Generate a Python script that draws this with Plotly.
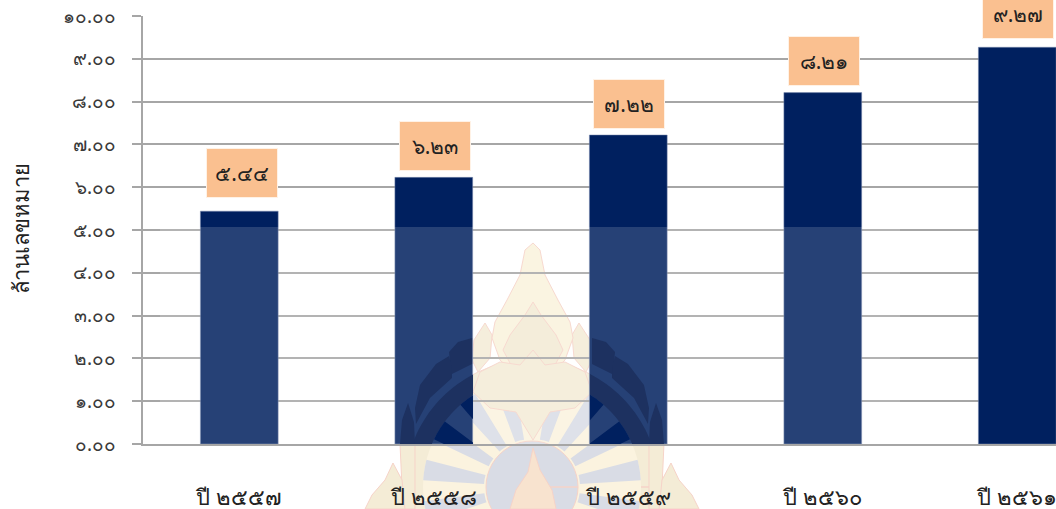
import math
import plotly.graph_objects as go

categories = ["ปี ๒๕๕๗", "ปี ๒๕๕๘", "ปี ๒๕๕๙", "ปี ๒๕๖๐", "ปี ๒๕๖๑"]
values = [5.44, 6.23, 7.22, 8.21, 9.27]
tick_values = [0, 1, 2, 3, 4, 5, 6, 7, 8, 9, 10]
axis_title = "ล้านเลขหมาย"
label_gaps = [14, 7, 7, 8, 9]
label_xshifts = [3, 1, 1, 1, 1]

THAI = str.maketrans("0123456789", "๐๑๒๓๔๕๖๗๘๙")
def thai(v):
    return f"{v:.2f}".translate(THAI)

FONT = "Noto Sans, DejaVu Sans, sans-serif"
L, T, B, W, H = 143, 16, 444, 1056, 509
CX, CY = 532, 487
COLS = [(395, 473), (590, 668)]

def P(x, y):
    return (x - L) / (W - L), (B - y) / (B - T)

def path(pts):
    return "M" + " L".join("%.4f %.4f" % P(*p) for p in pts) + " Z"

def clip(pts, inside, cross):
    out = []
    for i, a in enumerate(pts):
        b = pts[(i + 1) % len(pts)]
        if inside(a):
            out.append(a)
        if inside(a) != inside(b):
            out.append(cross(a, b))
    return out

def clip_box(pts, x0, x1, y1):
    def cx(v):
        return lambda a, b: (v, a[1] + (b[1] - a[1]) * (v - a[0]) / (b[0] - a[0]))
    def cy(v):
        return lambda a, b: (a[0] + (b[0] - a[0]) * (v - a[1]) / (b[1] - a[1]), v)
    for ins, cr in [(lambda p: p[0] >= x0, cx(x0)), (lambda p: p[0] <= x1, cx(x1)), (lambda p: p[1] <= y1, cy(y1))]:
        if pts:
            pts = clip(pts, ins, cr)
    return pts

def sector(r0, r1, a0, a1, n=24):
    steps = [a0 + (a1 - a0) * i / n for i in range(n + 1)]
    outer = [(CX + r1 * math.cos(math.radians(a)), CY - r1 * math.sin(math.radians(a))) for a in steps]
    inner = [(CX + r0 * math.cos(math.radians(a)), CY - r0 * math.sin(math.radians(a))) for a in reversed(steps)]
    return outer + inner

def mirror(pts):
    return [(2 * CX - x, y) for x, y in pts]

def shape(pts, fill, line=None, layer="below", lw=1):
    return dict(type="path", xref="paper", yref="paper", path=path(pts), fillcolor=fill, layer=layer,
                line=dict(color=line or "rgba(0,0,0,0)", width=lw if line else 0))

CREAM = "#fbf3df"
CREAM2 = "#f4ecd6"
PINK = "#f6d3c8"
GREY = "#d9dce5"

flame = [(533, 243), (540, 250), (545, 275), (558, 300), (570, 322), (573, 338), (565, 360), (550, 375), (533, 380),
         (516, 375), (500, 360), (492, 338), (495, 322), (507, 300), (520, 275), (525, 250)]
lotus = [(533, 350), (545, 365), (565, 362), (585, 372), (592, 392), (575, 408), (550, 412), (533, 440), (516, 412),
         (490, 408), (473, 392), (480, 372), (500, 362), (520, 365)]
inner_flame = [(533, 302), (541, 315), (556, 335), (563, 350), (555, 365), (533, 382), (511, 365), (503, 350), (510, 335), (525, 315)]
side_flame = [(485, 323), (492, 335), (490, 358), (478, 372), (472, 360), (474, 340)]
leaf_up = [(472, 338), (458, 342), (449, 352), (450, 362), (452, 374), (472, 364)]
leaf_mid = [(449, 356), (436, 364), (420, 385), (415, 408), (416, 424), (430, 398), (452, 378), (452, 368)]
leaf_low = [(408, 403), (402, 420), (400, 444), (403, 509), (415, 509), (415, 444), (414, 422)]
corner = [(393, 463), (402, 480), (405, 509), (365, 509), (372, 495), (385, 480)]
center_flame = [(533, 448), (540, 470), (552, 490), (556, 509), (510, 509), (516, 490), (528, 472)]

grey_angles = [171, 149, 127, 105, 75, 53, 31, 9, 193, -13]

shapes = [
    shape(sector(0, 127, 0, 360, 72), CREAM2, PINK),
    shape(sector(0, 109, 0, 360, 72), CREAM),
]
shapes += [shape(sector(48, 109, a - 5.5, a + 5.5, 6), GREY) for a in grey_angles]
shapes += [shape(sector(0, 46, 0, 360, 48), GREY, PINK)]
shapes += [shape(center_flame, "#f8e3cf", PINK)]
for poly in [leaf_low, leaf_mid, leaf_up, side_flame, corner]:
    shapes += [shape(poly, CREAM2, PINK), shape(mirror(poly), CREAM2, PINK)]
shapes += [shape(flame, "#faf2dc", PINK), shape(inner_flame, "#f3ead4", PINK), shape(lotus, "#f4ecd6", PINK)]

# paler band that crosses the first four bars
shapes.append(dict(type="rect", xref="paper", yref="paper", x0=P(160, 0)[0], x1=P(900, 0)[0],
                   y0=P(0, 444)[1], y1=P(0, 227)[1], fillcolor="rgba(255,255,255,0.15)",
                   line=dict(width=0), layer="above"))

DARK = "#1d3160"
NAVY = "#00205f"
dark_polys = [sector(109, 127, 90, 180, 40), leaf_up, leaf_mid, leaf_low]
wedges = [sector(48, 109, 122, 131, 8), sector(48, 109, 143, 154, 8)]
for x0, x1 in COLS:
    for poly in dark_polys:
        for p in (poly, mirror(poly)):
            c = clip_box(p, x0, x1, 444)
            if len(c) > 2:
                shapes.append(shape(c, DARK, layer="above"))
    for poly in wedges:
        for p in (poly, mirror(poly)):
            c = clip_box(p, x0, x1, 444)
            if len(c) > 2:
                shapes.append(shape(c, NAVY, layer="above"))

fig = go.Figure(go.Bar(x=categories, y=values, width=0.4, marker=dict(color=NAVY, line=dict(color="#7f8fb0", width=0.5)),
                       cliponaxis=False, hoverinfo="skip"))

annotations = [dict(x=c, y=v, xref="x", yref="y", text=thai(v), showarrow=False, xshift=xs, yshift=g + 24,
                    width=68, height=46, bgcolor="#fac090", bordercolor="#fff2e6", borderwidth=1,
                    font=dict(family=FONT, size=21, color="#222222"), align="center", valign="middle")
               for c, v, g, xs in zip(categories, values, label_gaps, label_xshifts)]
annotations.append(dict(x=P(20, 0)[0], y=P(0, 229)[1], xref="paper", yref="paper", text=axis_title, showarrow=False,
                        textangle=-90, xanchor="center", yanchor="middle",
                        font=dict(family=FONT, size=22, color="#222222")))

fig.update_layout(
    width=W, height=H, margin=dict(l=L, r=0, t=T, b=H - B, pad=0),
    paper_bgcolor="white", plot_bgcolor="rgba(0,0,0,0)", showlegend=False,
    shapes=shapes, annotations=annotations, font=dict(family=FONT, color="#333333"),
    xaxis=dict(type="category", range=[-0.495, (W - L) / 194.5 - 0.495], showgrid=False, showline=True, automargin=False,
               linecolor="#a6a6a6", linewidth=1.5, ticks="", ticklabelstandoff=33, tickfont=dict(family=FONT, size=22, color="#222222")),
    yaxis=dict(range=[0, 10], tickvals=tick_values, ticktext=[thai(t) for t in tick_values], automargin=False,
               showgrid=True, gridcolor="#a6a6a6", gridwidth=1.5, zeroline=False, showline=True, linecolor="#a6a6a6",
               linewidth=2, ticks="outside", ticklen=9, tickcolor="#a6a6a6", tickwidth=1.5, ticklabelstandoff=12,
               tickfont=dict(family=FONT, size=19, color="#3a3a3a")),
)
fig.write_html("out.html", config={"displayModeBar": False}, post_script="document.body.style.margin='0';document.body.style.overflow='hidden';")
